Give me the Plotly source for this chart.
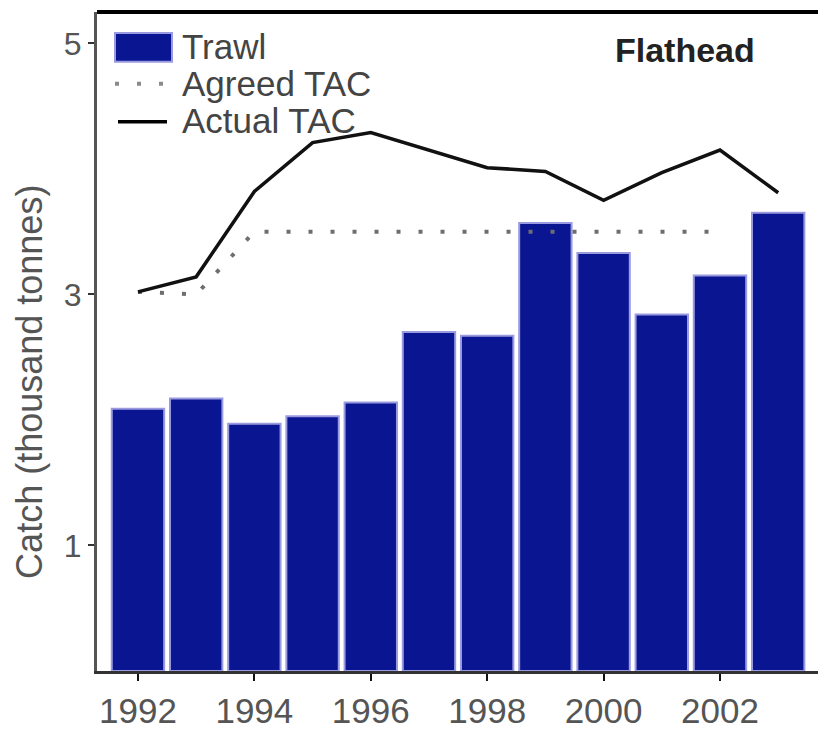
import plotly.graph_objects as go

years = [1992, 1993, 1994, 1995, 1996, 1997, 1998, 1999, 2000, 2001, 2002, 2003]
trawl = [2.09, 2.17, 1.97, 2.03, 2.14, 2.70, 2.67, 3.57, 3.33, 2.84, 3.15, 3.65]
agreed_years = [1992, 1993, 1994, 1995, 1996, 1997, 1998, 1999, 2000, 2001, 2002]
agreed_tac = [3.02, 3.0, 3.5, 3.5, 3.5, 3.5, 3.5, 3.5, 3.5, 3.5, 3.5]
actual_tac = [3.02, 3.14, 3.82, 4.21, 4.29, 4.15, 4.01, 3.98, 3.75, 3.97, 4.15, 3.81]
series_names = ["Trawl", "Agreed TAC", "Actual TAC"]
x_ticks = [1992, 1994, 1996, 1998, 2000, 2002]
y_ticks = [1, 3, 5]
panel_title = "Flathead"
y_title = "Catch (thousand tonnes)"

BAR = "#0a1591"
BAR_EDGE = "#9a9ae0"
FONT = "Liberation Sans, Arial, sans-serif"
DOTS = "4px,18px"

W, H = 818, 730
L, R, T, B = 97, 0, 12, 57
pw, ph = W - L - R, H - T - B


def px(x):
    return (x - L) / pw


def py(y):
    return (H - B - y) / ph


fig = go.Figure()
fig.add_trace(go.Bar(x=years, y=trawl, name=series_names[0], width=0.9,
                     marker=dict(color=BAR, line=dict(color=BAR_EDGE, width=2)),
                     showlegend=False))
fig.add_trace(go.Scatter(x=agreed_years, y=agreed_tac, name=series_names[1], mode="lines",
                         line=dict(color="#6e6e6e", width=4, dash=DOTS), showlegend=False))
fig.add_trace(go.Scatter(x=years, y=actual_tac, name=series_names[2], mode="lines",
                         line=dict(color="#111111", width=3.5), showlegend=False))

shapes = [
    dict(type="line", xref="paper", yref="paper", x0=0, x1=1, y0=1, y1=1,
         line=dict(color="#000000", width=4)),
    dict(type="rect", xref="paper", yref="paper", x0=px(115), x1=px(172), y0=py(62), y1=py(33),
         fillcolor=BAR, line=dict(color=BAR_EDGE, width=2)),
    dict(type="line", xref="paper", yref="paper", x0=px(115), x1=px(172), y0=py(84), y1=py(84),
         line=dict(color="#8a8a8a", width=4, dash=DOTS)),
    dict(type="line", xref="paper", yref="paper", x0=px(118), x1=px(167), y0=py(122), y1=py(122),
         line=dict(color="#000000", width=3.5)),
]

annotations = [
    dict(text=series_names[0], xref="paper", yref="paper", x=px(180), y=py(47),
         xanchor="left", yanchor="middle", showarrow=False,
         font=dict(family=FONT, size=35, color="#444444")),
    dict(text=series_names[1], xref="paper", yref="paper", x=px(180), y=py(84),
         xanchor="left", yanchor="middle", showarrow=False,
         font=dict(family=FONT, size=35, color="#444444")),
    dict(text=series_names[2], xref="paper", yref="paper", x=px(180), y=py(121),
         xanchor="left", yanchor="middle", showarrow=False,
         font=dict(family=FONT, size=35, color="#444444")),
    dict(text="<b>" + panel_title + "</b>", xref="paper", yref="paper", x=px(685), y=py(50),
         xanchor="center", yanchor="middle", showarrow=False,
         font=dict(family=FONT, size=34, color="#222222")),
    dict(text=y_title, xref="paper", yref="paper", x=px(30), y=py(383),
         xanchor="center", yanchor="middle", showarrow=False, textangle=-90,
         font=dict(family=FONT, size=36, color="#555555")),
]

fig.update_layout(
    width=W, height=H,
    margin=dict(l=L, r=R, t=T, b=B, pad=0),
    plot_bgcolor="white", paper_bgcolor="white",
    shapes=shapes, annotations=annotations,
    font=dict(family=FONT, color="#555555"),
)
fig.update_xaxes(range=[1991.296, 2003.684], tickmode="array", tickvals=x_ticks,
                 ticks="outside", ticklen=7, tickwidth=2, tickcolor="#111111",
                 showline=True, linecolor="#333333", linewidth=3,
                 showgrid=False, zeroline=False,
                 tickfont=dict(family=FONT, size=35, color="#555555"))
fig.update_yaxes(range=[0, 5.25], tickmode="array", tickvals=y_ticks,
                 ticks="outside", ticklen=6, tickwidth=2, tickcolor="#333333",
                 showline=True, linecolor="#555555", linewidth=3,
                 showgrid=False, zeroline=False,
                 tickfont=dict(family=FONT, size=32, color="#555555"))

fig.write_html("out.html", config={"displayModeBar": False},
               post_script="document.body.style.margin='0';document.body.style.overflow='hidden';")
